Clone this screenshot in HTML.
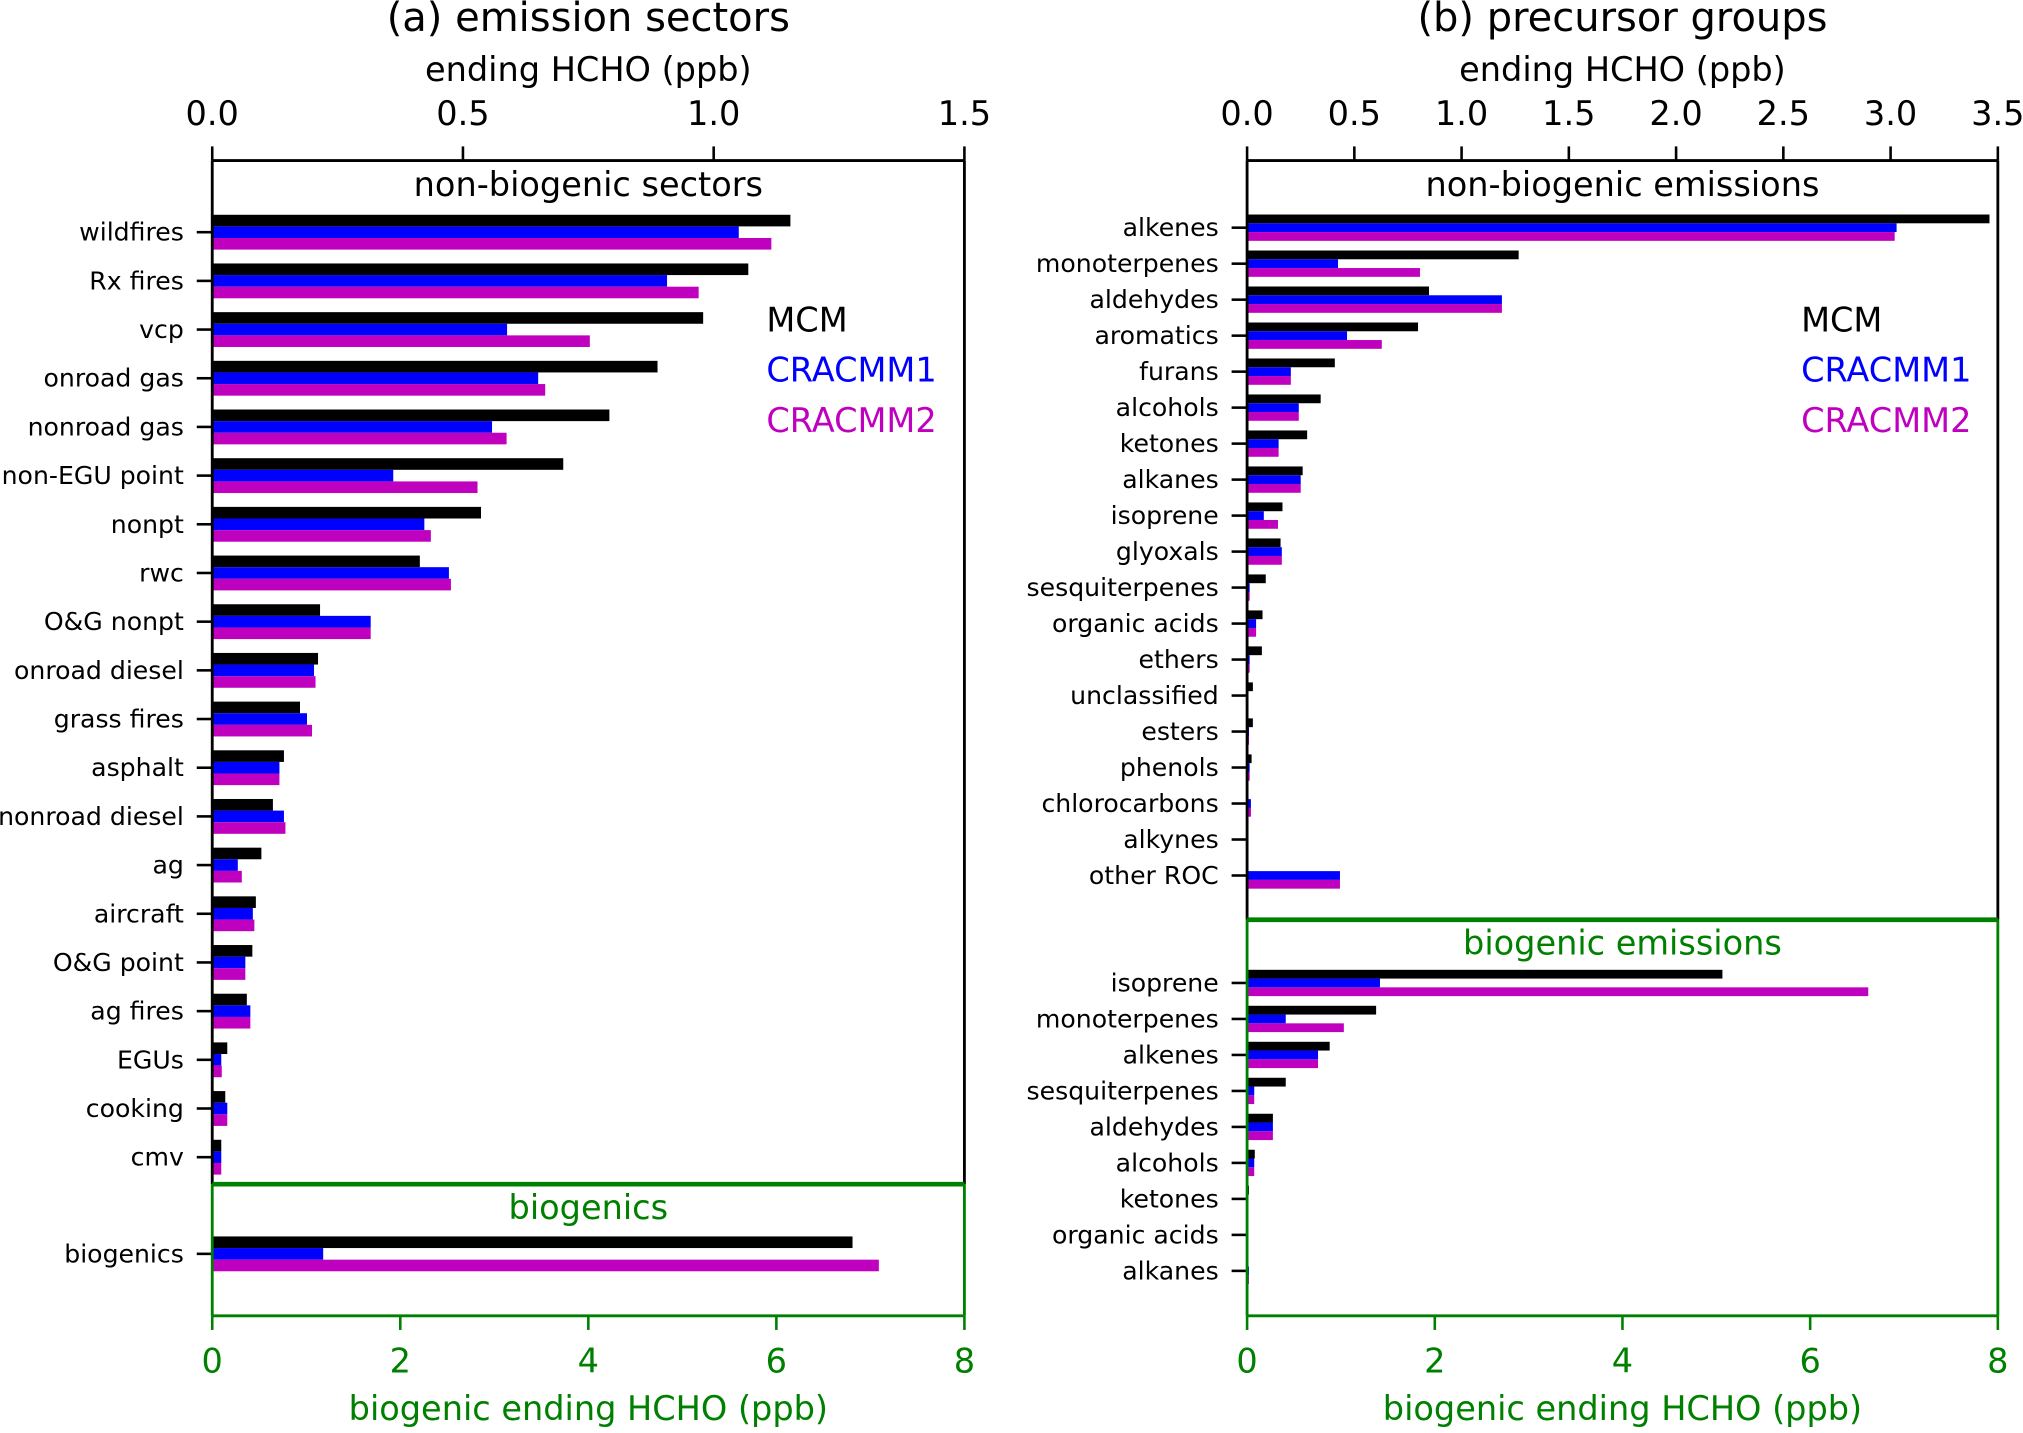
<!DOCTYPE html>
<html><head><meta charset="utf-8"><style>
html,body{margin:0;padding:0;background:#fff;}
svg text{font-family:"DejaVu Sans","Liberation Sans",sans-serif;}
</style></head><body>
<svg id="fig" width="2023" height="1428" viewBox="0 0 1568 1107" preserveAspectRatio="none" xmlns="http://www.w3.org/2000/svg"></svg>
<script>
// ---- Panel (a) data ----
const sectorCats = ["wildfires","Rx fires","vcp","onroad gas","nonroad gas","non-EGU point","nonpt","rwc","O&G nonpt","onroad diesel","grass fires","asphalt","nonroad diesel","ag","aircraft","O&G point","ag fires","EGUs","cooking","cmv"];
const sectorMCM = [1.153,1.069,0.979,0.888,0.792,0.700,0.536,0.414,0.215,0.211,0.175,0.143,0.121,0.098,0.087,0.080,0.069,0.030,0.026,0.018];
const sectorCR1 = [1.050,0.907,0.588,0.650,0.558,0.361,0.423,0.472,0.316,0.203,0.189,0.134,0.143,0.051,0.081,0.066,0.076,0.018,0.030,0.018];
const sectorCR2 = [1.115,0.970,0.753,0.664,0.587,0.529,0.436,0.476,0.316,0.206,0.199,0.134,0.146,0.059,0.084,0.066,0.076,0.019,0.030,0.018];
const bioSectorCats = ["biogenics"];
const bioSectorMCM = [6.81];
const bioSectorCR1 = [1.18];
const bioSectorCR2 = [7.09];
// ---- Panel (b) data ----
const groupCats = ["alkenes","monoterpenes","aldehydes","aromatics","furans","alcohols","ketones","alkanes","isoprene","glyoxals","sesquiterpenes","organic acids","ethers","unclassified","esters","phenols","chlorocarbons","alkynes","other ROC"];
const groupMCM = [3.461,1.266,0.848,0.797,0.409,0.343,0.280,0.259,0.165,0.156,0.087,0.072,0.069,0.027,0.027,0.021,0.006,0.003,0.003];
const groupCR1 = [3.028,0.424,1.188,0.466,0.204,0.241,0.147,0.250,0.078,0.162,0.012,0.042,0.012,0.006,0.009,0.012,0.018,0.006,0.433];
const groupCR2 = [3.019,0.806,1.188,0.628,0.204,0.241,0.147,0.250,0.144,0.162,0.012,0.042,0.012,0.006,0.009,0.012,0.018,0.006,0.433];
const bioGroupCats = ["isoprene","monoterpenes","alkenes","sesquiterpenes","aldehydes","alcohols","ketones","organic acids","alkanes"];
const bioGroupMCM = [5.065,1.375,0.880,0.412,0.275,0.082,0.020,0.005,0.010];
const bioGroupCR1 = [1.416,0.412,0.756,0.076,0.275,0.076,0.010,0.005,0.020];
const bioGroupCR2 = [6.619,1.031,0.756,0.076,0.275,0.076,0.010,0.005,0.020];
const topTicksA = ["0.0","0.5","1.0","1.5"];
const topTicksB = ["0.0","0.5","1.0","1.5","2.0","2.5","3.0","3.5"];
const botTicks = ["0","2","4","6","8"];

const svg = document.getElementById('fig');
const NS = "http://www.w3.org/2000/svg";
function mk(tag, attrs, parent){
  const e = document.createElementNS(NS, tag);
  for (const k in attrs) e.setAttribute(k, attrs[k]);
  (parent||svg).appendChild(e);
  return e;
}
function txt(s, x, y, size, color, anchor, name){
  const t = mk('text', {x:x, y:y, 'font-size':size, fill:color, 'text-anchor':anchor||'middle', 'dominant-baseline':'central'});
  t.textContent = s;
  
  
  return t;
}
const COLORS = ["#000000","#0000ff","#bf00bf"];
const GREEN = "#008000";
const FS = 26;

function panel(o){
  const L=o.left, R=o.right, T=124.5, S=o.sep, B=1020;
  const xTop = v => L + (R-L)*v/o.topMax;
  const xBot = v => L + (R-L)*v/8;
  const g = mk('g', {});
  
  
  txt(o.title, (L+R)/2, 14, 31, '#000', 'middle', 'panel-title');
  txt("ending HCHO (ppb)", (L+R)/2, 54, FS, '#000', 'middle', 'top-axis-title');
  o.topTicks.forEach(s=>{
    const v = parseFloat(s), x = xTop(v);
    const l = mk('line',{x1:x,x2:x,y1:T,y2:T-11,stroke:'#000','stroke-width':2},g);
     
    txt(s, x, 88, FS, '#000', 'middle', 'top-tick-label');
  });
  botTicks.forEach(s=>{
    const v = parseFloat(s), x = xBot(v);
    const l = mk('line',{x1:x,x2:x,y1:B,y2:B+11,stroke:GREEN,'stroke-width':2},g);
     
    txt(s, x, 1055, FS, GREEN, 'middle', 'bottom-tick-label');
  });
  txt("biogenic ending HCHO (ppb)", (L+R)/2, 1092, FS, GREEN, 'middle', 'bottom-axis-title');
  txt(o.topSection, (L+R)/2, 143, FS, '#000', 'middle', 'section-title-nonbiogenic');
  txt(o.bioSection, (L+R)/2, S+18, FS, GREEN, 'middle', 'section-title-biogenic');
  function bars(cats, vals, y0, step, half, bh, xf){
    cats.forEach((c,i)=>{
      const cy = y0 + i*step;
      const tk = mk('line',{x1:L,x2:L-12,y1:cy,y2:cy,stroke:'#000','stroke-width':2},g);
       
      txt(c, L-22, cy, o.catSize, '#000', 'end', 'category-label');
      vals.forEach((arr,k)=>{
        const r = mk('rect',{x:L, y:cy-half+k*bh, width:Math.max(0,xf(arr[i])-L), height:bh, fill:COLORS[k]},g);
        
        
      });
    });
  }
  bars(o.cats, o.vals, o.y0, o.step, o.half, o.bh, xTop);
  bars(o.bcats, o.bvals, o.by0, o.step, o.half, o.bh, xBot);
  mk('line',{x1:L,x2:R,y1:T,y2:T,stroke:'#000','stroke-width':2.2},g);
  mk('line',{x1:L,x2:L,y1:T,y2:S,stroke:'#000','stroke-width':2.2},g);
  mk('line',{x1:R,x2:R,y1:T,y2:S,stroke:'#000','stroke-width':2.2},g);
  mk('line',{x1:L,x2:L,y1:S,y2:B,stroke:GREEN,'stroke-width':2.2},g);
  mk('line',{x1:R,x2:R,y1:S,y2:B,stroke:GREEN,'stroke-width':2.2},g);
  mk('line',{x1:L,x2:R,y1:B,y2:B,stroke:GREEN,'stroke-width':2.2},g);
  mk('line',{x1:L,x2:R,y1:S,y2:S,stroke:GREEN,'stroke-width':3.6},g);
  const lx = o.legendX;
  txt("MCM", lx, 248, FS, COLORS[0], 'start', 'legend-entry-mcm');
  txt("CRACMM1", lx, 287, FS, COLORS[1], 'start', 'legend-entry-cracmm1');
  txt("CRACMM2", lx, 326, FS, COLORS[2], 'start', 'legend-entry-cracmm2');
}
panel({name:'panel-a-emission-sectors', title:"(a) emission sectors", left:164.5, right:747.5, topMax:1.5, sep:918,
  topTicks:topTicksA, topSection:"non-biogenic sectors", bioSection:"biogenics",
  cats:sectorCats, vals:[sectorMCM,sectorCR1,sectorCR2], y0:180, step:37.74, half:13.5, bh:9,
  bcats:bioSectorCats, bvals:[bioSectorMCM,bioSectorCR1,bioSectorCR2], by0:972, catSize:19.5, legendX:594});
panel({name:'panel-b-precursor-groups', title:"(b) precursor groups", left:966.6, right:1548.5, topMax:3.5, sep:713,
  topTicks:topTicksB, topSection:"non-biogenic emissions", bioSection:"biogenic emissions",
  cats:groupCats, vals:[groupMCM,groupCR1,groupCR2], y0:176.5, step:27.9, half:10.2, bh:6.8,
  bcats:bioGroupCats, bvals:[bioGroupMCM,bioGroupCR1,bioGroupCR2], by0:762, catSize:19.5, legendX:1396});
</script>
</body></html>
